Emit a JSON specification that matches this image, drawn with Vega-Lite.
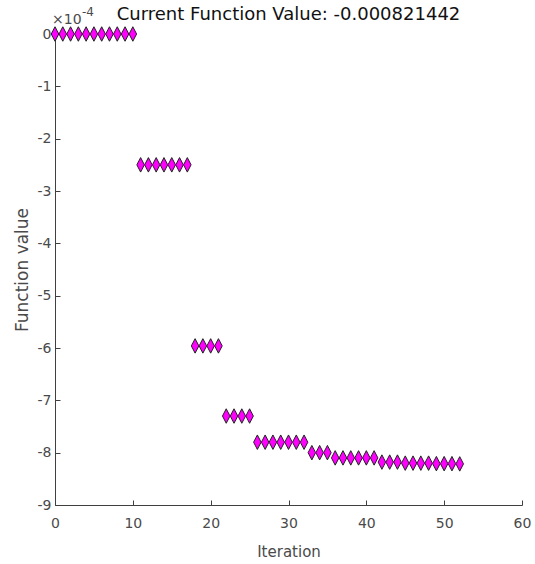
{
  "$schema": "https://vega.github.io/schema/vega-lite/v6.json",
  "width": 467,
  "height": 471,
  "autosize": {"type": "none"},
  "padding": {"left": 55, "top": 34, "right": 13, "bottom": 59},
  "background": "white",
  "config": {
    "view": {"stroke": null},
    "font": "DejaVu Sans",
    "axis": {
      "grid": false,
      "domainColor": "#404040",
      "tickColor": "#404040",
      "labelColor": "#4a4a4a",
      "titleColor": "#4a4a4a",
      "labelFont": "DejaVu Sans",
      "titleFont": "DejaVu Sans",
      "labelFontSize": 14,
      "titleFontSize": 15,
      "titleFontWeight": "normal",
      "tickSize": -5,
      "domainWidth": 1,
      "labelFlush": false
    }
  },
  "title": {
    "text": "Current Function Value: -0.000821442",
    "font": "DejaVu Sans",
    "fontSize": 18,
    "fontWeight": "normal",
    "color": "#111111",
    "anchor": "middle",
    "offset": -18,
    "dx": 0
  },
  "data": {
    "values": [
      {"iteration": 0, "fval": 0}, {"iteration": 1, "fval": 0}, {"iteration": 2, "fval": 0}, {"iteration": 3, "fval": 0},
      {"iteration": 4, "fval": 0}, {"iteration": 5, "fval": 0}, {"iteration": 6, "fval": 0}, {"iteration": 7, "fval": 0},
      {"iteration": 8, "fval": 0}, {"iteration": 9, "fval": 0}, {"iteration": 10, "fval": 0},
      {"iteration": 11, "fval": -0.00025}, {"iteration": 12, "fval": -0.00025}, {"iteration": 13, "fval": -0.00025},
      {"iteration": 14, "fval": -0.00025}, {"iteration": 15, "fval": -0.00025}, {"iteration": 16, "fval": -0.00025},
      {"iteration": 17, "fval": -0.00025},
      {"iteration": 18, "fval": -0.000596}, {"iteration": 19, "fval": -0.000596}, {"iteration": 20, "fval": -0.000596},
      {"iteration": 21, "fval": -0.000596},
      {"iteration": 22, "fval": -0.00073}, {"iteration": 23, "fval": -0.00073}, {"iteration": 24, "fval": -0.00073},
      {"iteration": 25, "fval": -0.00073},
      {"iteration": 26, "fval": -0.00078}, {"iteration": 27, "fval": -0.00078}, {"iteration": 28, "fval": -0.00078},
      {"iteration": 29, "fval": -0.00078}, {"iteration": 30, "fval": -0.00078}, {"iteration": 31, "fval": -0.00078},
      {"iteration": 32, "fval": -0.00078},
      {"iteration": 33, "fval": -0.0008}, {"iteration": 34, "fval": -0.0008}, {"iteration": 35, "fval": -0.0008},
      {"iteration": 36, "fval": -0.00081}, {"iteration": 37, "fval": -0.00081}, {"iteration": 38, "fval": -0.00081},
      {"iteration": 39, "fval": -0.00081}, {"iteration": 40, "fval": -0.00081}, {"iteration": 41, "fval": -0.00081},
      {"iteration": 42, "fval": -0.000818}, {"iteration": 43, "fval": -0.000818}, {"iteration": 44, "fval": -0.000818},
      {"iteration": 45, "fval": -0.00082}, {"iteration": 46, "fval": -0.00082}, {"iteration": 47, "fval": -0.00082},
      {"iteration": 48, "fval": -0.00082}, {"iteration": 49, "fval": -0.000821}, {"iteration": 50, "fval": -0.000821},
      {"iteration": 51, "fval": -0.000821}, {"iteration": 52, "fval": -0.000821442}
    ]
  },
  "layer": [
    {
      "mark": {
        "type": "point",
        "shape": "M0,-1L0.52,0L0,1L-0.52,0Z",
        "filled": true,
        "fill": "#ff00ff",
        "stroke": "#222222",
        "strokeWidth": 1,
        "size": 210,
        "opacity": 1,
        "clip": false
      },
      "encoding": {
        "x": {
          "field": "iteration",
          "type": "quantitative",
          "scale": {"domain": [0, 60], "nice": false, "zero": false},
          "axis": {"title": "Iteration", "values": [0, 10, 20, 30, 40, 50, 60], "labelPadding": 16, "titlePadding": 14}
        },
        "y": {
          "field": "fval",
          "type": "quantitative",
          "scale": {"domain": [-0.0009, 0], "nice": false, "zero": false},
          "axis": {
            "title": "Function value",
            "titleFontSize": 17,
            "values": [0, -0.0001, -0.0002, -0.0003, -0.0004, -0.0005, -0.0006, -0.0007, -0.0008, -0.0009],
            "labelExpr": "toString(round(datum.value * 10000))",
            "labelPadding": 9,
            "titlePadding": 6
          }
        }
      }
    },
    {
      "data": {"values": [{"iteration": 0, "fval": 0, "label": "×10"}]},
      "mark": {"type": "text", "align": "left", "baseline": "bottom", "dx": -3, "dy": -7, "fontSize": 14, "color": "#4a4a4a", "font": "DejaVu Sans", "clip": false},
      "encoding": {
        "x": {"field": "iteration", "type": "quantitative"},
        "y": {"field": "fval", "type": "quantitative"},
        "text": {"field": "label"}
      }
    },
    {
      "data": {"values": [{"iteration": 0, "fval": 0, "label": "-4"}]},
      "mark": {"type": "text", "align": "left", "baseline": "bottom", "dx": 27, "dy": -15, "fontSize": 12, "color": "#4a4a4a", "font": "DejaVu Sans", "clip": false},
      "encoding": {
        "x": {"field": "iteration", "type": "quantitative"},
        "y": {"field": "fval", "type": "quantitative"},
        "text": {"field": "label"}
      }
    }
  ]
}
